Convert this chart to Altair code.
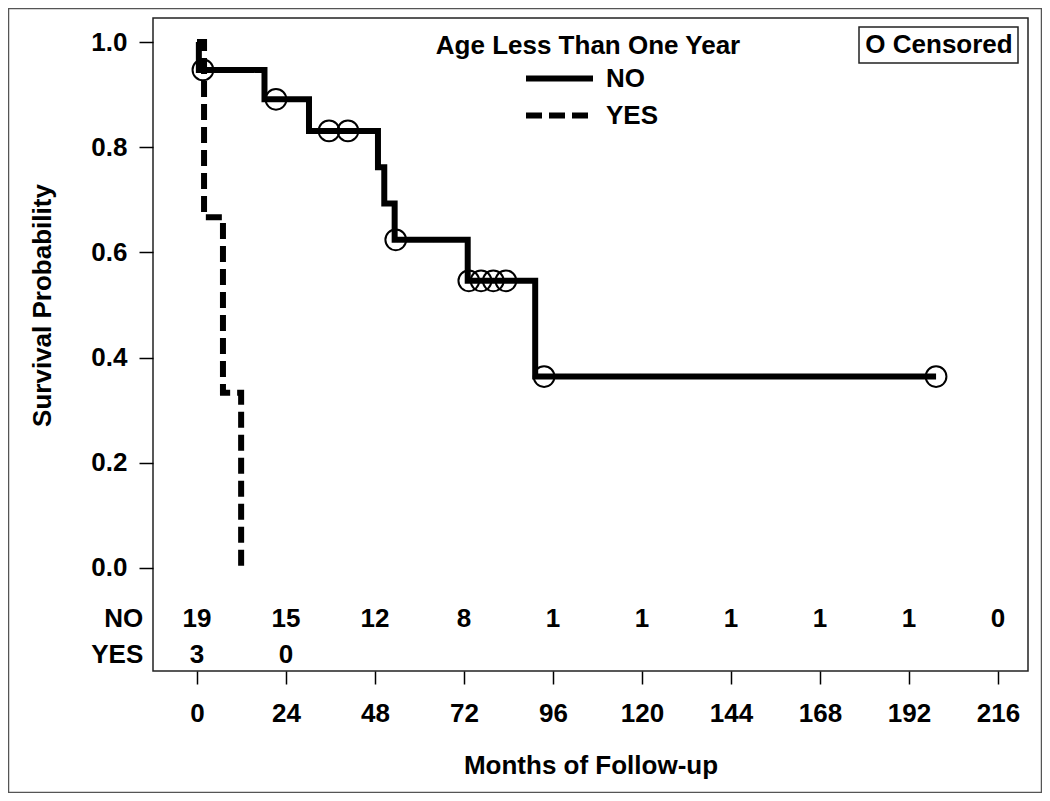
import altair as alt
import pandas as pd

FONT = "Liberation Sans"
FS = 26

# Kaplan-Meier step points
no_times = [0, 0.5, 18.2, 30.2, 48.8, 50.5, 53.3, 73.0, 91.2, 199.3]
no_surv = [1.0, 0.947, 0.891, 0.831, 0.762, 0.693, 0.624, 0.546, 0.364, 0.364]
yes_times = [0, 1.9, 7.0, 11.9]
yes_surv = [1.0, 0.667, 0.333, 0.0]

# censored observations (NO group)
cens_times = [1.6, 21.3, 35.6, 40.7, 53.6, 73.3, 76.6, 79.9, 83.3, 93.6, 199.3]
cens_surv = [0.947, 0.891, 0.831, 0.831, 0.624, 0.546, 0.546, 0.546, 0.546, 0.364, 0.364]

# numbers at risk
risk_times = [0, 24, 48, 72, 96, 120, 144, 168, 192, 216]
risk_no = [19, 15, 12, 8, 1, 1, 1, 1, 1, 0]
risk_yes_times = [0, 24]
risk_yes = [3, 0]

x_ticks = [0, 24, 48, 72, 96, 120, 144, 168, 192, 216]
y_ticks = [0.0, 0.2, 0.4, 0.6, 0.8, 1.0]
groups = ["NO", "YES"]

# row placement of the at-risk table (layout, in y-scale units)
ROW_Y = {"NO": -0.097, "YES": -0.165}
ROW_LABEL_X = -14.5

curves = pd.DataFrame(
    [{"t": t, "s": s, "group": "NO"} for t, s in zip(no_times, no_surv)]
    + [{"t": t, "s": s, "group": "YES"} for t, s in zip(yes_times, yes_surv)]
)
cens = pd.DataFrame({"t": cens_times, "s": cens_surv})
risk = pd.DataFrame(
    [{"t": t, "n": str(n), "y": ROW_Y["NO"]} for t, n in zip(risk_times, risk_no)]
    + [{"t": t, "n": str(n), "y": ROW_Y["YES"]} for t, n in zip(risk_yes_times, risk_yes)]
)
rowlab = pd.DataFrame({"t": [ROW_LABEL_X, ROW_LABEL_X], "y": [ROW_Y[g] for g in groups], "lab": groups})

xscale = alt.Scale(domain=[-11.865, 224.09], nice=False, zero=False)
yscale = alt.Scale(domain=[-0.19582, 1.04563], nice=False, zero=False)

xaxis = alt.Axis(
    values=x_ticks, title="Months of Follow-up", domain=False, grid=False,
    tickSize=13, tickColor="black", tickWidth=1.5,
    labelFont=FONT, labelFontSize=FS, labelFontWeight="bold", labelColor="black", labelPadding=16,
    titleFont=FONT, titleFontSize=FS, titleFontWeight="bold", titleColor="black",
    titleY=94, titleBaseline="middle",
)
yaxis = alt.Axis(
    values=y_ticks, format=".1f", title="Survival Probability", domain=False, grid=False,
    tickSize=14, tickColor="black", tickWidth=1.5,
    labelFont=FONT, labelFontSize=FS, labelFontWeight="bold", labelColor="black", labelPadding=12,
    titleFont=FONT, titleFontSize=FS, titleFontWeight="bold", titleColor="black",
    titleX=-111, titleY=287, titleAngle=270, titleAlign="center", titleBaseline="middle",
)

base_one = alt.Data(values=[{"a": 1}])

lines = alt.Chart(curves).mark_line(
    color="black", strokeWidth=6, interpolate="step-after", strokeCap="butt", strokeJoin="miter"
).encode(
    x=alt.X("t:Q", scale=xscale, axis=xaxis),
    y=alt.Y("s:Q", scale=yscale, axis=yaxis),
    strokeDash=alt.StrokeDash(
        "group:N",
        scale=alt.Scale(domain=groups, range=[[1, 0], [16, 7]]),
        legend=alt.Legend(
            orient="none", legendX=370, legendY=42, title=None,
            symbolType="stroke", symbolSize=4489, symbolStrokeWidth=6,
            symbolStrokeColor="black", clipHeight=37, rowPadding=0,
            labelFont=FONT, labelFontSize=FS, labelFontWeight="bold",
            labelColor="black", labelOffset=10,
        ),
    ),
    detail="group:N",
)

circles = alt.Chart(cens).mark_point(
    shape="circle", filled=False, size=430, strokeWidth=2, color="black", opacity=1
).encode(x=alt.X("t:Q", scale=xscale), y=alt.Y("s:Q", scale=yscale))

risk_text = alt.Chart(risk).mark_text(
    font=FONT, fontSize=FS, fontWeight="bold", color="black", align="center", baseline="middle"
).encode(x=alt.X("t:Q", scale=xscale), y=alt.Y("y:Q", scale=yscale), text="n:N")

row_text = alt.Chart(rowlab).mark_text(
    font=FONT, fontSize=FS, fontWeight="bold", color="black", align="right", baseline="middle"
).encode(x=alt.X("t:Q", scale=xscale), y=alt.Y("y:Q", scale=yscale), text="lab:N")

legend_title = alt.Chart(base_one).mark_text(
    text="Age Less Than One Year", font=FONT, fontSize=FS, fontWeight="bold",
    color="black", align="center", baseline="middle"
).encode(x=alt.value(435), y=alt.value(28))

cens_box = alt.Chart(base_one).mark_rect(
    fill="white", stroke="#222", strokeWidth=1.5
).encode(x=alt.value(706), x2=alt.value(865), y=alt.value(9), y2=alt.value(45))

cens_text = alt.Chart(base_one).mark_text(
    text="O Censored", font=FONT, fontSize=FS, fontWeight="bold",
    color="black", align="center", baseline="middle"
).encode(x=alt.value(786), y=alt.value(27))

outer = alt.Chart(base_one).mark_rect(
    fill="transparent", stroke="#555", strokeWidth=1.5
).encode(x=alt.value(-144.5), x2=alt.value(888.5), y=alt.value(-9.5), y2=alt.value(774.5))

chart = alt.layer(
    outer, lines, circles, risk_text, row_text, legend_title, cens_box, cens_text
).properties(
    width=875, height=653,
    autosize=alt.AutoSizeParams(type="none"),
    padding={"left": 145, "top": 10, "right": 14, "bottom": 122},
    background="white",
).configure_view(stroke="#222", strokeWidth=1.5)

chart.save("out.html", embed_options={"renderer": "svg", "actions": False})
